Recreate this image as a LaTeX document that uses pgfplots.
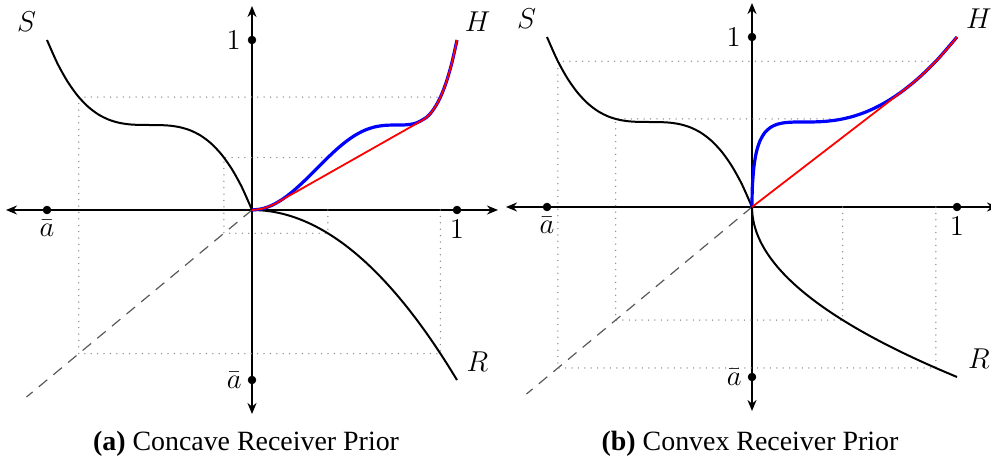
\documentclass[border=0pt]{standalone}
\usepackage{pgfplots}
\pgfplotsset{compat=1.18}
\usepackage[no-math]{fontspec}
\setmainfont{Liberation Serif}
\usetikzlibrary{arrows.meta}
\newcommand\lab{\fontsize{14.5}{16}\selectfont}
\newcommand\curvelab{\fontsize{14.5}{16}\selectfont}
\newcommand\capfont{\fontsize{14}{16}\selectfont}
\begin{document}
\begin{tikzpicture}
\pgfplotsset{
  panel/.style={
    x=102.5bp, y=85bp, xmin=-1.2, xmax=1.2, ymin=-1.2, ymax=1.2,
    axis lines=middle, xtick=\empty, ytick=\empty, clip=false, anchor=origin,
    axis line style={line width=1bp, {Stealth[length=5.5bp,width=4.5bp]}-{Stealth[length=5.5bp,width=4.5bp]}},
  },
  dotl/.style={black!45, line width=0.75bp, line cap=round, dash pattern=on 0bp off 3.2bp},
  dashl/.style={black!65, line width=0.6bp, dash pattern=on 5.5bp off 4bp},
  crv/.style={black, line width=1bp, smooth},
  hb/.style={blue, line width=1.6bp, smooth},
  hr/.style={red, line width=0.9bp},
}
% ---------------- (a) ----------------
\begin{axis}[panel, at={(126bp,-105bp)}]
\addplot[dotl] coordinates {(0.919,0) (0.919,-0.845) (-0.845,-0.845) (-0.845,0.6643) (0.919,0.6643)};
\addplot[dotl] coordinates {(0.370,0) (0.370,-0.137) (-0.137,-0.137) (-0.137,0.3087) (0.370,0.3087)};
\addplot[dashl] coordinates {(0,0) (-1.1,-1.1)};
% S
\addplot[crv] coordinates {(-1,1) (-0.95,0.8645) (-0.9,0.756) (-0.85,0.6715) (-0.8,0.608) (-0.75,0.5625) (-0.7,0.532) (-0.65,0.5135) (-0.6,0.504) (-0.55,0.5005) (-0.5,0.5) (-0.45,0.4995) (-0.4,0.496) (-0.35,0.4865) (-0.3,0.468) (-0.25,0.4375) (-0.2,0.392) (-0.15,0.3285) (-0.1,0.244) (-0.05,0.1355) (0,0)};
% R
\addplot[crv] coordinates {(0,0) (0.05,-0.0025) (0.1,-0.01) (0.15,-0.0225) (0.2,-0.04) (0.25,-0.0625) (0.3,-0.09) (0.35,-0.1225) (0.4,-0.16) (0.45,-0.2025) (0.5,-0.25) (0.55,-0.3025) (0.6,-0.36) (0.65,-0.4225) (0.7,-0.49) (0.75,-0.5625) (0.8,-0.64) (0.85,-0.7225) (0.9,-0.81) (0.95,-0.9025) (1,-1)};
% H
\addplot[hb] coordinates {(0,0) (0.05,0.0075) (0.1,0.0294) (0.15,0.0645) (0.2,0.1107) (0.25,0.1650) (0.3,0.2243) (0.35,0.2848) (0.4,0.3428) (0.45,0.3947) (0.5,0.4375) (0.55,0.4692) (0.6,0.4890) (0.65,0.4981) (0.7,0.4999) (0.75,0.5010) (0.8,0.5110) (0.85,0.5441) (0.875,0.5750) (0.9,0.6192) (0.925,0.6799) (0.95,0.7608) (0.975,0.8660) (1,1)};
% convex envelope
\addplot[hr, smooth] coordinates {(0,0) (0.05,0.0075) (0.1,0.0294) (0.1207,0.0424)};
\addplot[hr] coordinates {(0.1207,0.0424) (0.828,0.5255)};
\addplot[hr, smooth] coordinates {(0.828,0.5255) (0.85,0.5441) (0.875,0.5750) (0.9,0.6192) (0.925,0.6799) (0.95,0.7608) (0.975,0.8660) (1,1)};
\addplot[only marks, mark=*, mark size=1.9bp, black] coordinates {(1,0) (-1,0) (0,1) (0,-1)};
\node[anchor=north, inner sep=0pt, yshift=-5bp, font=\lab] at (axis cs:1,0) {$1$};
\node[anchor=north, inner sep=0pt, yshift=-5bp, font=\lab] at (axis cs:-1,0) {$\bar{a}$};
\node[anchor=east, inner sep=0pt, xshift=-5.5bp, font=\lab] at (axis cs:0,1) {$1$};
\node[anchor=east, inner sep=0pt, xshift=-5bp, font=\lab] at (axis cs:0,-1) {$\bar{a}$};
\node[font=\curvelab] at (axis cs:-1.1,1.105) {$S$};
\node[font=\curvelab] at (axis cs:1.1,1.105) {$H$};
\node[font=\curvelab] at (axis cs:1.1,-0.89) {$R$};
\end{axis}
% ---------------- (b) ----------------
\begin{axis}[panel, at={(376bp,-103.5bp)}]
\addplot[dotl] coordinates {(0.8968,0) (0.8968,-0.947) (-0.947,-0.947) (-0.947,0.8573) (0.8968,0.8573)};
\addplot[dotl] coordinates {(0.4422,0) (0.4422,-0.665) (-0.665,-0.665) (-0.665,0.5180) (0.4422,0.5180)};
\addplot[dashl] coordinates {(0,0) (-1.1,-1.1)};
% S
\addplot[crv] coordinates {(-1,1) (-0.95,0.8645) (-0.9,0.756) (-0.85,0.6715) (-0.8,0.608) (-0.75,0.5625) (-0.7,0.532) (-0.65,0.5135) (-0.6,0.504) (-0.55,0.5005) (-0.5,0.5) (-0.45,0.4995) (-0.4,0.496) (-0.35,0.4865) (-0.3,0.468) (-0.25,0.4375) (-0.2,0.392) (-0.15,0.3285) (-0.1,0.244) (-0.05,0.1355) (0,0)};
% R
\addplot[crv] coordinates {(0,0) (0.0025,-0.05) (0.01,-0.1) (0.0225,-0.15) (0.04,-0.2) (0.0625,-0.25) (0.09,-0.3) (0.1225,-0.35) (0.16,-0.4) (0.2025,-0.45) (0.25,-0.5) (0.3025,-0.55) (0.36,-0.6) (0.4225,-0.65) (0.49,-0.7) (0.5625,-0.75) (0.64,-0.8) (0.7225,-0.85) (0.81,-0.9) (0.9025,-0.95) (1,-1)};
% H
\addplot[hb] coordinates {(0,0) (0.000625,0.0713) (0.0025,0.1355) (0.01,0.244) (0.0225,0.3285) (0.04,0.392) (0.0625,0.4375) (0.09,0.468) (0.1225,0.4865) (0.16,0.496) (0.2025,0.4995) (0.25,0.5) (0.3025,0.5005) (0.36,0.504) (0.4225,0.5135) (0.49,0.532) (0.5625,0.5625) (0.64,0.608) (0.7225,0.6715) (0.81,0.756) (0.9025,0.8645) (1,1)};
% convex envelope
\addplot[hr] coordinates {(0,0) (0.75,0.6962)};
\addplot[hr, smooth] coordinates {(0.75,0.6962) (0.8,0.7455) (0.85,0.8005) (0.9,0.8613) (0.95,0.9278) (1,1)};
\addplot[only marks, mark=*, mark size=1.9bp, black] coordinates {(1,0) (-1,0) (0,1) (0,-1)};
\node[anchor=north, inner sep=0pt, yshift=-5bp, font=\lab] at (axis cs:1,0) {$1$};
\node[anchor=north, inner sep=0pt, yshift=-5bp, font=\lab] at (axis cs:-1,0) {$\bar{a}$};
\node[anchor=east, inner sep=0pt, xshift=-5.5bp, font=\lab] at (axis cs:0,1) {$1$};
\node[anchor=east, inner sep=0pt, xshift=-5bp, font=\lab] at (axis cs:0,-1) {$\bar{a}$};
\node[font=\curvelab] at (axis cs:-1.1,1.105) {$S$};
\node[font=\curvelab] at (axis cs:1.107,1.105) {$H$};
\node[font=\curvelab] at (axis cs:1.107,-0.89) {$R$};
\end{axis}
\node[anchor=base, font=\capfont] at (123bp,-225bp) {\textbf{(a)} Concave Receiver Prior};
\node[anchor=base, font=\capfont] at (375bp,-225bp) {\textbf{(b)} Convex Receiver Prior};
\pgfresetboundingbox
\path[use as bounding box] (0,0) rectangle (495.5bp,-231bp);
\end{tikzpicture}
\end{document}
